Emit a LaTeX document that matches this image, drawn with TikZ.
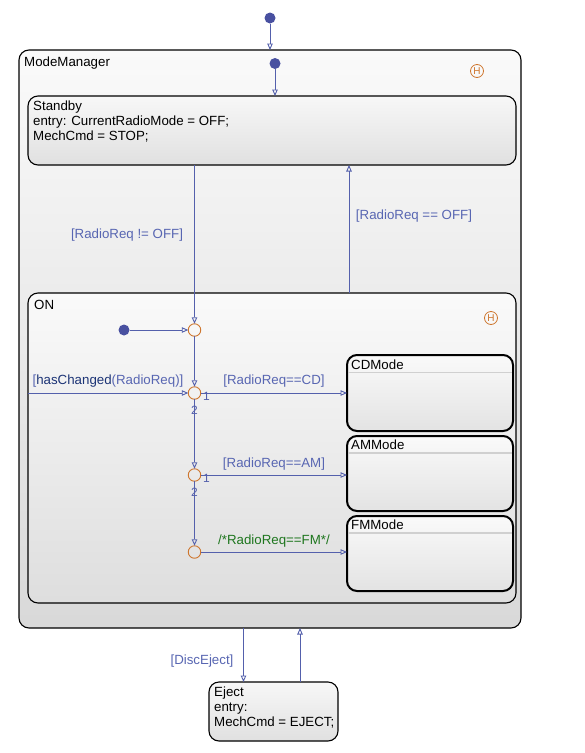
\documentclass[tikz,border=0pt]{standalone}
\usepackage{fontspec}
\setmainfont{Liberation Sans}
\usetikzlibrary{arrows.meta,calc}
\definecolor{tcol}{RGB}{84,96,172}
\definecolor{lcol}{RGB}{88,102,178}
\definecolor{dcol}{RGB}{28,52,118}
\definecolor{ocol}{RGB}{206,118,46}
\definecolor{gcol}{RGB}{30,118,30}
\definecolor{dotcol}{RGB}{72,80,160}
\definecolor{hdrcol}{RGB}{208,208,208}
\begin{document}
\begin{tikzpicture}[x=1pt,y=-1pt,
  font=\fontsize{13.3}{15}\selectfont,
  box/.style={draw=black, line width=1.1pt, rounded corners=10pt, anchor=north west,
    inner sep=0pt, outer sep=0pt, top color=white!97!black, bottom color=white!88!black},
  sub/.style={box, line width=2pt, top color=white!98!black, bottom color=white!89!black},
  txt/.style={anchor=base west, inner sep=0pt, text=black},
  tr/.style={draw=tcol, line width=0.9pt, -{Triangle[open, length=6.5pt, width=5.5pt]}},
  lbl/.style={text=lcol, inner sep=0pt},
  num/.style={text=tcol, inner sep=0pt, font=\fontsize{12}{12}\selectfont},
  dot/.style={circle, fill=dotcol, minimum size=11pt, inner sep=0pt, outer sep=0pt},
  junc/.style={circle, draw=ocol, line width=0.9pt, minimum size=12.5pt, inner sep=0pt, outer sep=0pt},
  hist/.style={circle, draw=ocol, text=ocol, line width=0.8pt, minimum size=13pt, inner sep=0pt,
    font=\fontsize{10}{10}\selectfont},
  hdr/.style={draw=hdrcol, line width=1.5pt}
]
\useasboundingbox[fill=white] (0,0) rectangle (585,753);

% ModeManager
\node[box, minimum width=502pt, minimum height=578pt, top color=white!98!black, bottom color=white!85!black] (mm) at (19,50) {};
\node[txt] (mmt) at (24,66) {ModeManager};
\node[hist] (h1) at (477,71) {H};

% Standby
\node[box, minimum width=488pt, minimum height=69pt] (sb) at (28,96) {};
\node[txt] (sbt1) at (33,110) {Standby};
\node[txt] (sbt2) at (33,125) {entry: CurrentRadioMode = OFF;};
\node[txt] (sbt3) at (33,140) {MechCmd = STOP;};

% ON
\node[box, minimum width=488pt, minimum height=310pt, top color=white!98!black, bottom color=white!87!black] (on) at (28,293) {};
\node[txt] (ont) at (34,309) {ON};
\node[hist] (h2) at (491,318) {H};

% substates
\node[sub, minimum width=166pt, minimum height=76pt] (cd) at (347,355) {};
\node[sub, minimum width=166pt, minimum height=75pt] (am) at (347,436) {};
\node[sub, minimum width=166pt, minimum height=75pt] (fm) at (347,516) {};
\draw[hdr] ($(cd.north west)+(1,17.5)$) -- ($(cd.north east)+(-1,17.5)$);
\draw[hdr] ($(am.north west)+(1,17)$) -- ($(am.north east)+(-1,17)$);
\draw[hdr] ($(fm.north west)+(1,17)$) -- ($(fm.north east)+(-1,17)$);
\node[txt] (cdt) at (351,369.5) {CDMode};
\node[txt] (amt) at (351,449.5) {AMMode};
\node[txt] (fmt) at (351,529.5) {FMMode};

% Eject
\node[box, minimum width=129pt, minimum height=59pt] (ej) at (209,682) {};
\node[txt] (ejt1) at (214,696) {Eject};
\node[txt] (ejt2) at (214,711) {entry:};
\node[txt] (ejt3) at (214,726) {MechCmd = EJECT;};

% default transitions
\node[dot] (d0) at (270,18) {};
\node[dot] (d1) at (275,63.5) {};
\node[dot] (d2) at (124,330) {};
\draw[tr] (d0) -- (d0 |- mm.north);
\draw[tr] (d1) -- (d1 |- sb.north);

% junctions
\node[junc] (j1) at (194.5,330) {};
\node[junc] (j2) at (194.5,393) {};
\node[junc] (j3) at (194.5,475) {};
\node[junc] (j4) at (194.5,552) {};

\draw[tr] (j1 |- sb.south) -- (j1);
\coordinate (c1) at (349,293);
\draw[tr] (c1) -- (c1 |- sb.south);
\draw[tr] (d2) -- (j1);
\draw[tr] (j1) -- (j2);
\draw[tr] (on.west |- j2) -- (j2);
\draw[tr] (j2) -- (j2 -| cd.west);
\draw[tr] (j2) -- (j3);
\draw[tr] (j3) -- (j3 -| am.west);
\draw[tr] (j3) -- (j4);
\draw[tr] (j4) -- (j4 -| fm.west);

\coordinate (c2) at (243.5,628);
\coordinate (c3) at (300,682);
\draw[tr] (c2) -- (c2 |- ej.north);
\draw[tr] (c3) -- (c3 |- mm.south);

% labels
\node[lbl] (l1) at (127,235) {[RadioReq != OFF]};
\node[lbl] (l2) at (414,216) {[RadioReq == OFF]};
\node[lbl] (l3) at (108,381.5) {[\textcolor{dcol}{hasChanged}(RadioReq)]};
\node[lbl] (l4) at (274,381.5) {[RadioReq==CD]};
\node[lbl] (l5) at (274,464) {[RadioReq==AM]};
\node[lbl, text=gcol] (l6) at (274,541.5) {/*RadioReq==FM*/};
\node[lbl] (l7) at (202,661) {[DiscEject]};

\node[num] (n1) at (206.5,396) {1};
\node[num] (n2) at (194.5,410) {2};
\node[num] (n3) at (206.5,478) {1};
\node[num] (n4) at (194.5,492) {2};
\end{tikzpicture}
\end{document}
